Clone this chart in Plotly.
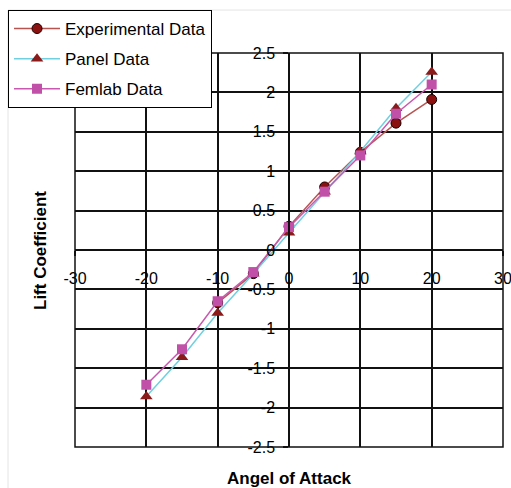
import plotly.graph_objects as go

# Data
angle_exp = [-10, -5, 0, 5, 10, 15, 20]
lift_exp = [-0.67, -0.30, 0.30, 0.80, 1.24, 1.61, 1.91]

angle_panel = [-20, -15, -10, -5, 0, 5, 10, 15, 20]
lift_panel = [-1.86, -1.36, -0.80, -0.30, 0.22, 0.74, 1.25, 1.80, 2.26]

angle_femlab = [-20, -15, -10, -5, 0, 5, 10, 15, 20]
lift_femlab = [-1.71, -1.26, -0.65, -0.28, 0.29, 0.74, 1.20, 1.73, 2.10]

x_tickvals = [-30, -20, -10, 0, 10, 20, 30]
x_ticktext = ["-30", "-20", "-10", "0", "10", "20", "30"]
y_tickvals = [-2.5, -2, -1.5, -1, -0.5, 0, 0.5, 1, 1.5, 2, 2.5]
y_ticktext = ["-2.5", "-2", "-1.5", "-1", "-0.5", "0", "0.5", "1", "1.5", "2", "2.5"]

FONT = "Liberation Sans, Arial, sans-serif"

fig = go.Figure()
fig.add_trace(go.Scatter(
    x=angle_exp, y=lift_exp, name="Experimental Data", mode="lines+markers",
    line=dict(color="#b85450", width=1.5),
    marker=dict(symbol="circle", size=10, color="#8b1010", line=dict(color="#1a0000", width=1)),
    legendgroup="a"))
fig.add_trace(go.Scatter(
    x=angle_panel, y=lift_panel, name="Panel Data", mode="lines+markers",
    line=dict(color="#70d0e0", width=1.5),
    marker=dict(symbol="triangle-up", size=11, color="#8b1a1a"),
    legendgroup="b"))
fig.add_trace(go.Scatter(
    x=angle_femlab, y=lift_femlab, name="Femlab Data", mode="lines+markers",
    line=dict(color="#c858b0", width=1.5),
    marker=dict(symbol="square", size=10, color="#c050a8"),
    legendgroup="c"))

fig.update_layout(
    width=511, height=488,
    margin=dict(l=75, r=8, t=53, b=41, autoexpand=False),
    paper_bgcolor="white", plot_bgcolor="white",
    font=dict(family=FONT, size=16, color="black"),
    showlegend=True,
    legend=dict(
        xref="container", yref="container",
        x=0.0157, y=(488 - 10) / 488, xanchor="left", yanchor="top",
        bgcolor="white", bordercolor="black", borderwidth=1,
        font=dict(family=FONT, size=17, color="black"),
        traceorder="grouped", tracegroupgap=5, itemwidth=46,
    ),
    xaxis=dict(
        range=[-30, 30], tickvals=x_tickvals, ticktext=x_ticktext,
        showgrid=True, gridcolor="#111111", gridwidth=1.5,
        zeroline=False, showline=True, linecolor="#111111", linewidth=1.5,
        anchor="free", position=0.5,
        ticks="outside", ticklen=5, tickcolor="#111111", tickwidth=1.5,
        ticklabelstandoff=9, ticklabeloverflow="allow",
        tickfont=dict(family=FONT, size=16, color="black"),
    ),
    yaxis=dict(
        range=[-2.5, 2.5], tickvals=y_tickvals, ticktext=y_ticktext,
        showgrid=True, gridcolor="#111111", gridwidth=1.5,
        zeroline=False, showline=True, linecolor="#111111", linewidth=1.5,
        anchor="free", position=0.5,
        ticks="outside", ticklen=5, tickcolor="#111111", tickwidth=1.5,
        ticklabelstandoff=5, ticklabeloverflow="allow",
        tickfont=dict(family=FONT, size=16, color="black"),
    ),
    shapes=[
        dict(type="rect", xref="paper", yref="paper", x0=0, x1=1, y0=0, y1=1,
             line=dict(color="#111111", width=1.5), layer="above"),
        dict(type="rect", xref="paper", yref="paper", x0=-0.1565, x1=1.05, y0=-0.2, y1=1.109,
             line=dict(color="#e4e4e4", width=1), layer="below"),
    ],
    annotations=[
        dict(text="<b>Angel of Attack</b>", xref="paper", yref="paper", x=0.5, y=-0.079,
             showarrow=False, font=dict(family=FONT, size=17, color="black"),
             xanchor="center", yanchor="middle"),
        dict(text="<b>Lift Coefficient</b>", xref="paper", yref="paper", x=-0.0818, y=0.5,
             showarrow=False, textangle=-90, font=dict(family=FONT, size=17, color="black"),
             xanchor="center", yanchor="middle"),
    ],
)

fig.write_html(
    "out.html",
    config={"displayModeBar": False},
    post_script="document.body.style.margin='0';document.body.style.overflow='hidden';",
)
